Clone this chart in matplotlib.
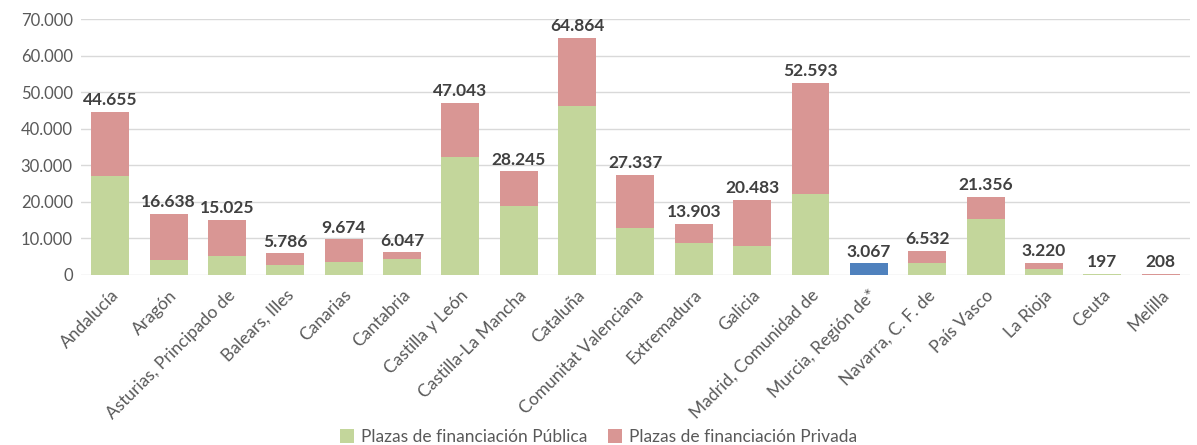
import matplotlib.pyplot as plt
import numpy as np
from matplotlib.ticker import FuncFormatter

regiones = ["Andalucía", "Aragón", "Asturias, Principado de", "Balears, Illes", "Canarias",
            "Cantabria", "Castilla y León", "Castilla-La Mancha", "Cataluña",
            "Comunitat Valenciana", "Extremadura", "Galicia", "Madrid, Comunidad de",
            "Murcia, Región de*", "Navarra, C. F. de", "País Vasco", "La Rioja", "Ceuta", "Melilla"]
total = [44655, 16638, 15025, 5786, 9674, 6047, 47043, 28245, 64864, 27337,
         13903, 20483, 52593, 3067, 6532, 21356, 3220, 197, 208]
publica = [27100, 4030, 5200, 2650, 3560, 4380, 32250, 18740, 46140, 12790,
           8680, 7780, 22110, 0, 3120, 15340, 1560, 20, 10]
# Murcia sin desglose público/privado
sin_desglose = [0] * 13 + [3067] + [0] * 5

publica = np.array(publica)
privada = np.array(total) - publica
privada[13] = 0

plt.rcParams["font.family"] = ["Lato", "DejaVu Sans"]

fig = plt.figure(figsize=(11.97, 4.45), dpi=100)
ax = fig.add_axes([0.0677, 0.383, 0.9263, 0.574])

x = np.arange(len(regiones))
w = 0.65
ax.bar(x, publica, w, color="#C3D69B", label="Plazas de financiación Pública", zorder=3)
ax.bar(x, privada, w, bottom=publica, color="#D99694", label="Plazas de financiación Privada", zorder=3)
ax.bar(x, sin_desglose, w, color="#4F81BD", zorder=3)

for xi, t in zip(x, total):
    ax.text(xi, t + 1000, f"{t:,}".replace(",", "."), ha="center", va="bottom",
            fontsize=12.5, fontweight="bold", color="#404040")

ax.set_ylim(0, 70000)
ax.set_xlim(-0.5, len(regiones) - 0.5)
ax.set_yticks(range(0, 70001, 10000))
ax.yaxis.set_major_formatter(FuncFormatter(lambda v, p: f"{int(v):,}".replace(",", ".")))
ax.grid(axis="y", color="#D9D9D9", linewidth=1, zorder=0)
for s in ax.spines.values():
    s.set_visible(False)
ax.tick_params(axis="y", length=0, labelsize=12, colors="#595959", pad=6)
ax.tick_params(axis="x", length=0, labelsize=12.5, colors="#595959", pad=9)
ax.set_xticks(x)
ax.set_xticklabels(regiones, rotation=45, ha="right", rotation_mode="anchor")

fig.legend(*ax.get_legend_handles_labels(), loc="lower center", ncol=2, frameon=False,
           bbox_to_anchor=(0.5, -0.035), fontsize=12.5, labelcolor="#595959",
           handlelength=0.8, handleheight=0.8, handletextpad=0.4, columnspacing=1.2)

fig.savefig("out.png", dpi=100)
